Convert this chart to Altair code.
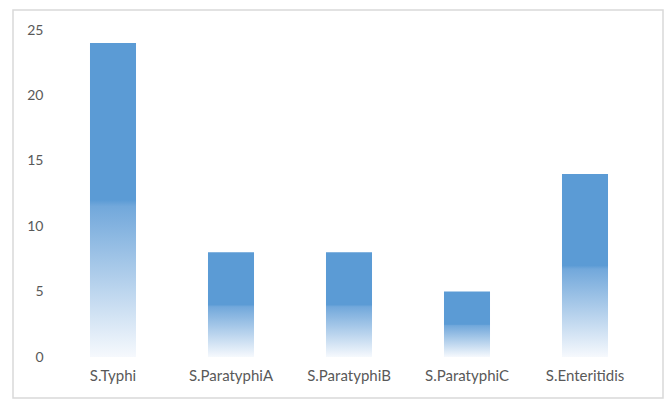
import altair as alt
import pandas as pd

categories = ["S.Typhi", "S.ParatyphiA", "S.ParatyphiB", "S.ParatyphiC", "S.Enteritidis"]
counts = [24, 8, 8, 5, 14]
y_ticks = [0, 5, 10, 15, 20, 25]

df = pd.DataFrame({"cat": categories, "n": counts})

grad = alt.Gradient(
    gradient="linear",
    x1=0, x2=0, y1=0, y2=1,
    stops=[
        alt.GradientStop(offset=0, color="#5B9BD5"),
        alt.GradientStop(offset=0.5, color="#5B9BD5"),
        alt.GradientStop(offset=0.52, color="#72A8DB"),
        alt.GradientStop(offset=1, color="#F6F9FD"),
    ],
)

W, H = 590, 327

frame = alt.Chart(df).mark_rect(
    fillOpacity=0, stroke="#D9D9D9", strokeWidth=1.5, clip=False
).encode(
    x=alt.value(-41), x2=alt.value(609), y=alt.value(-20), y2=alt.value(368)
).transform_filter("datum.cat == 'S.Typhi'")

bars = alt.Chart(df).mark_bar(color=grad).encode(
    x=alt.X(
        "cat:N", sort=categories, title=None,
        scale=alt.Scale(paddingInner=0.61, paddingOuter=0.305),
        axis=alt.Axis(
            labelAngle=0, domain=False, ticks=False, labelPadding=11,
            labelFont="Lato", labelFontSize=15, labelColor="#595959",
            zindex=1,
        ),
    ),
    y=alt.Y(
        "n:Q", title=None,
        scale=alt.Scale(domain=[0, 25], nice=False),
        axis=alt.Axis(
            values=y_ticks, domain=False, ticks=False, grid=False,
            labelPadding=11, labelFont="Lato", labelFontSize=14,
            labelColor="#595959", zindex=1,
        ),
    ),
)

chart = alt.layer(frame, bars).properties(
    width=W, height=H,
    background="white",
    autosize=alt.AutoSizeParams(type="none"),
    padding={"left": 54, "top": 30, "right": 23, "bottom": 43},
).configure_view(strokeWidth=0, stroke="transparent")

chart.save("out.html", embed_options={"renderer": "svg", "actions": False})
